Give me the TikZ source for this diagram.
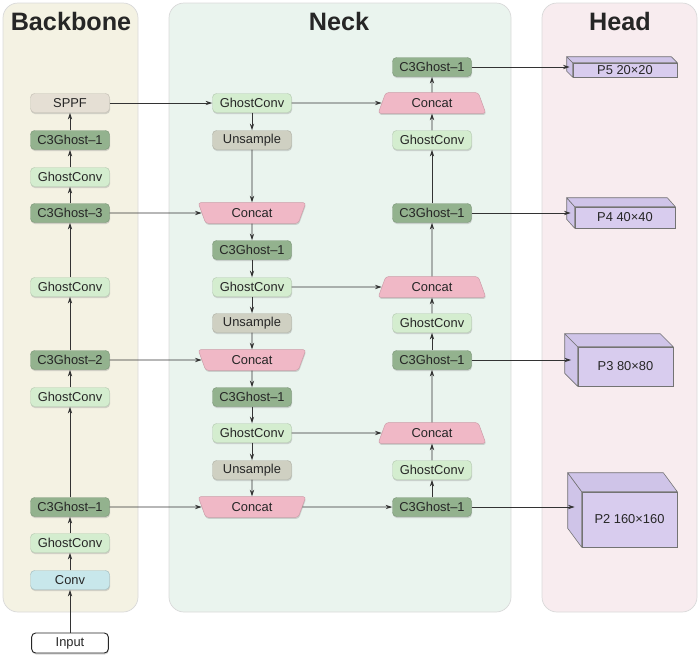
\documentclass[tikz,border=0pt]{standalone}
\usepackage{fontspec}
\setmainfont{Liberation Sans}
\usetikzlibrary{positioning}
\usetikzlibrary{calc}
\usetikzlibrary{arrows.meta}
\usetikzlibrary{shapes.geometric}
\usetikzlibrary{shadows}

\definecolor{bbfill}{HTML}{F4F2E3}
\definecolor{neckfill}{HTML}{EAF4EE}
\definecolor{headfill}{HTML}{F8ECEF}
\definecolor{c3col}{HTML}{93B28E}
\definecolor{gccol}{HTML}{D4EDCF}
\definecolor{sppfcol}{HTML}{E5DFD4}
\definecolor{upcol}{HTML}{CFD0C2}
\definecolor{convcol}{HTML}{C8E7EB}
\definecolor{catcol}{HTML}{F0B8C6}
\definecolor{cubecol}{HTML}{D8CCEE}
\definecolor{cubeside}{HTML}{CFC4E8}

\begin{document}
\begin{tikzpicture}
[
x=0.3mm, y=-0.3mm,
>={Stealth[length=2mm, width=1.3mm]},
every node/.style={font=\fontsize{11}{13}\selectfont, text=black!85},
panel/.style={rounded corners=4.5mm, draw=black!15, line width=0.6pt},
title/.style={font=\fontsize{21.5}{25}\selectfont\bfseries},
shade/.style={drop shadow={shadow xshift=0.15mm, shadow yshift=-0.45mm, opacity=0.3}},
box/.style={rounded corners=1.2mm, minimum width=23.7mm, minimum height=5.7mm, inner sep=0pt, line width=0.4pt, shade},
c3/.style={box, fill=c3col, draw=c3col!85!black},
gc/.style={box, fill=gccol, draw=gccol!85!black},
up/.style={box, fill=upcol, draw=upcol!85!black},
sppfbox/.style={box, fill=sppfcol, draw=sppfcol!85!black},
convbox/.style={box, fill=convcol, draw=convcol!80!black},
inbox/.style={box, fill=white, draw=black!85, line width=0.8pt, minimum width=23mm, minimum height=6mm},
concat/.style={trapezium, trapezium stretches=true, trapezium left angle=70, trapezium right angle=70, minimum width=32.4mm, minimum height=6.2mm, inner sep=0pt, rounded corners=0.8mm, fill=catcol, draw=catcol!85!black, line width=0.4pt, shade},
concatdown/.style={concat, shape border rotate=180},
cube/.style={rectangle, fill=cubecol, draw=black!55, line width=0.5pt, inner sep=0pt},
cubeface/.style={fill=cubeside, draw=black!55, line width=0.5pt, line join=round},
link/.style={->, line width=0.75pt, draw=black!80},
]

\useasboundingbox (0,0) rectangle (700,659);

% panels
\draw [panel, fill=bbfill] (3,3) rectangle (138,612);
\draw [panel, fill=neckfill] (169,3) rectangle (511,612);
\draw [panel, fill=headfill] (542,3) rectangle (697,612);
\node (tbb) [title] at (71,21) {Backbone};
\node (tneck) [title] at (339,21) {Neck};
\node (thead) [title] at (620,21) {Head};

% backbone
\node (input) [inbox] at (70,643) {Input};
\node (conv) [convbox] at (70,580) {Conv};
\node (bgc1) [gc] at (70,543) {GhostConv};
\node (bc1) [c3] at (70,507) {C3Ghost–1};
\node (bgc2) [gc] at (70,397) {GhostConv};
\node (bc2) [c3] at (70,360) {C3Ghost–2};
\node (bgc3) [gc] at (70,287) {GhostConv};
\node (bc3) [c3] at (70,213) {C3Ghost–3};
\node (bgc4) [gc] at (70,177) {GhostConv};
\node (bc4) [c3] at (70,140) {C3Ghost–1};
\node (sppf) [sppfbox] at (70,103) {SPPF};

% neck, top-down path
\node (ngc1) [gc] at (252,103) {GhostConv};
\node (up1) [up] at (252,140) {Unsample};
\node (cat1) [concatdown] at (252,213) {Concat};
\node (nc1) [c3] at (252,250) {C3Ghost–1};
\node (ngc2) [gc] at (252,287) {GhostConv};
\node (up2) [up] at (252,323) {Unsample};
\node (cat2) [concatdown] at (252,360) {Concat};
\node (nc2) [c3] at (252,397) {C3Ghost–1};
\node (ngc3) [gc] at (252,433) {GhostConv};
\node (up3) [up] at (252,470) {Unsample};
\node (cat3) [concatdown] at (252,507) {Concat};

% neck, bottom-up path
\node (rc1) [c3] at (432,507) {C3Ghost–1};
\node (rgc1) [gc] at (432,470) {GhostConv};
\node (rcat1) [concat] at (432,433) {Concat};
\node (rc2) [c3] at (432,360) {C3Ghost–1};
\node (rgc2) [gc] at (432,323) {GhostConv};
\node (rcat2) [concat] at (432,287) {Concat};
\node (rc3) [c3] at (432,213) {C3Ghost–1};
\node (rgc3) [gc] at (432,140) {GhostConv};
\node (rcat3) [concat] at (432,103) {Concat};
\node (rc4) [c3] at (432,67) {C3Ghost–1};

% head
\node (p5) [cube, minimum width=31.2mm, minimum height=4.2mm] at (625,70) {P5 20×20};
\node (p4) [cube, minimum width=30mm, minimum height=6.3mm] at (625,217.5) {P4 40×40};
\node (p3) [cube, minimum width=28.5mm, minimum height=11.7mm] at (625.5,366.5) {P3 80×80};
\node (p2) [cube, minimum width=28.5mm, minimum height=16.5mm] at (629.5,519.5) {P2 160×160};

\foreach \n/\dx/\dy in {p5/6/6, p4/8/9, p3/13/13, p2/14/19}
{
\draw [cubeface] (\n.north west) -- ++(-\dx,-\dy) -- ($(\n.south west)+(-\dx,-\dy)$) -- (\n.south west) -- cycle;
\draw [cubeface] (\n.north west) -- ++(-\dx,-\dy) -- ($(\n.north east)+(-\dx,-\dy)$) -- (\n.north east) -- cycle;
\coordinate (\n-in) at ($(\n.west)+(-\dx/2,-\dy/2)$);
}

\foreach \a/\b in {input/conv, conv/bgc1, bgc1/bc1, bc1/bgc2, bgc2/bc2, bc2/bgc3, bgc3/bc3, bc3/bgc4, bgc4/bc4, bc4/sppf,
sppf/ngc1, ngc1/up1, up1/cat1, bc3/cat1, cat1/nc1, nc1/ngc2, ngc2/up2, up2/cat2, bc2/cat2, cat2/nc2, nc2/ngc3, ngc3/up3, up3/cat3, bc1/cat3,
cat3/rc1, rc1/rgc1, rgc1/rcat1, ngc3/rcat1, rcat1/rc2, rc2/rgc2, rgc2/rcat2, ngc2/rcat2, rcat2/rc3, rc3/rgc3, rgc3/rcat3, ngc1/rcat3, rcat3/rc4}
{
\draw [link] (\a) -- (\b);
}
\foreach \a/\b in {rc4/p5, rc3/p4, rc2/p3, rc1/p2}
{
\draw [link] (\a) -- (\a -| \b-in);
}
\end{tikzpicture}
\end{document}
